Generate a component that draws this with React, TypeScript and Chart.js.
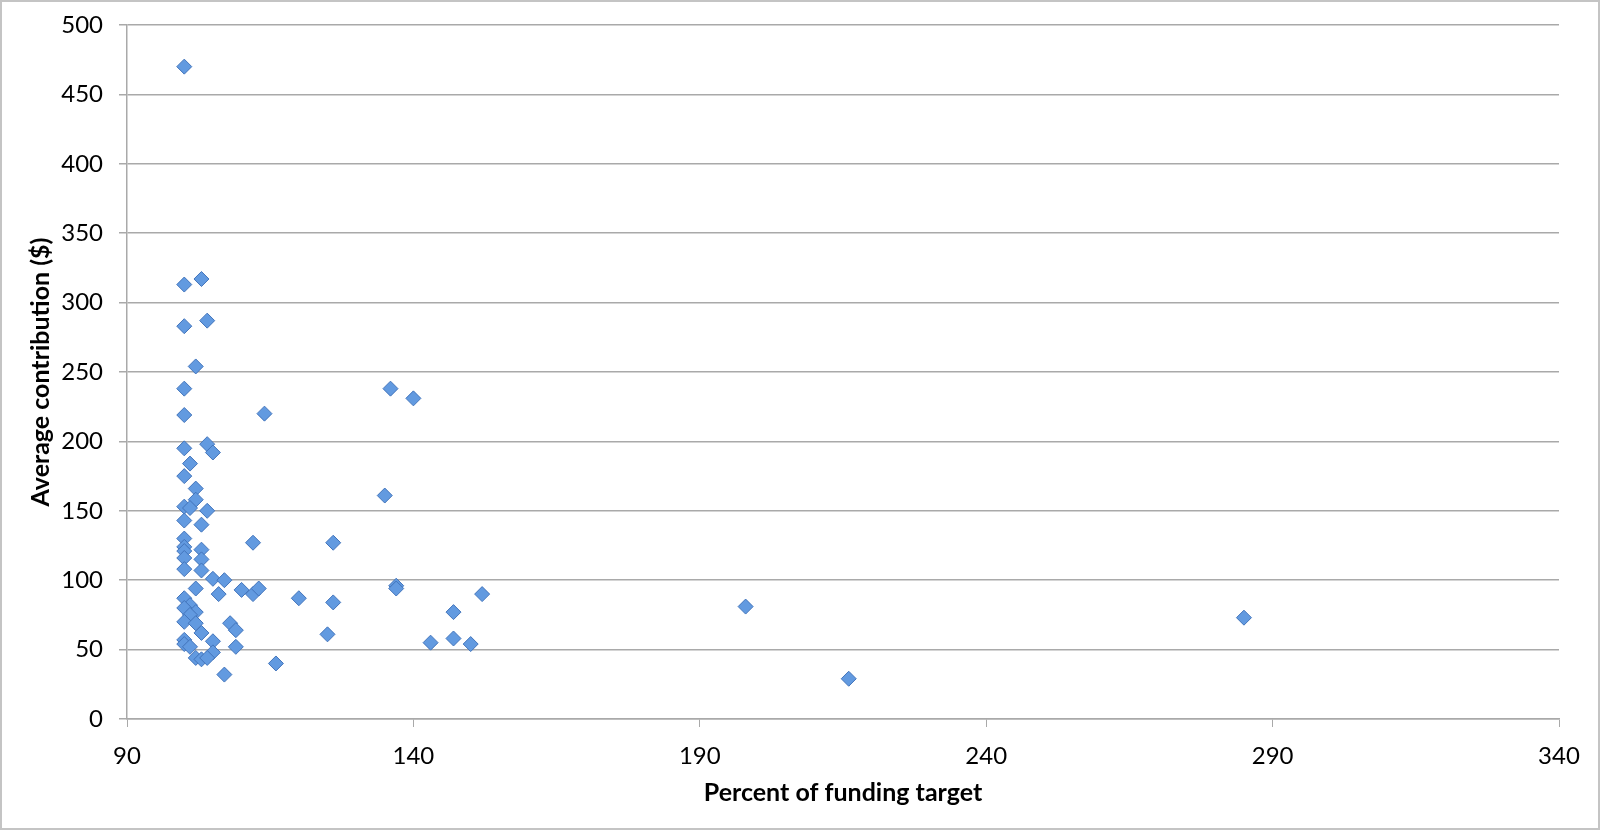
import React, { useEffect, useRef } from "react";
import { Chart, registerables } from "chart.js";

Chart.register(...registerables);

const percentOfTarget: number[] = [
  100, 100, 103, 100, 104, 102, 100, 100, 114, 136, 140,
  100, 104, 105, 101, 100, 102, 102, 135,
  100, 101, 104, 100, 103, 100, 100, 100, 103, 100, 103, 100, 103, 112,
  105, 107, 102, 106, 110, 112, 113,
  100, 101, 100, 102, 101, 100, 102, 103, 108, 109,
  105, 100, 100, 101, 109, 105, 102, 103, 104, 107,
  116, 120, 126, 126, 125, 137, 137, 147, 143, 147, 150, 152,
  198, 216, 285,
];

const avgContribution: number[] = [
  470, 313, 317, 283, 287, 254, 238, 219, 220, 238, 231,
  195, 198, 192, 184, 175, 166, 158, 161,
  153, 152, 150, 143, 140, 130, 124, 121, 122, 116, 115, 108, 107, 127,
  101, 100, 94, 90, 93, 90, 94,
  87, 82, 80, 77, 75, 70, 69, 62, 69, 64,
  56, 57, 54, 52, 52, 48, 44, 43, 44, 32,
  40, 87, 127, 84, 61, 96, 94, 77, 55, 58, 54, 90,
  81, 29, 73,
];

const xTitle = "Percent of funding target";
const yTitle = "Average contribution ($)";

export default function App() {
  const ref = useRef<HTMLCanvasElement | null>(null);

  useEffect(() => {
    document.body.style.margin = "0";
    if (!ref.current) return;
    const points = percentOfTarget.map((x, i) => ({ x, y: avgContribution[i] }));
    const gridColor = "#a9a9a9";
    const chart = new Chart(ref.current, {
      type: "scatter",
      data: {
        datasets: [
          {
            data: points,
            pointStyle: "rectRot",
            pointRadius: 7.5,
            pointHoverRadius: 7.5,
            backgroundColor: "#629ae0",
            borderColor: "#4274bb",
            borderWidth: 1,
          },
        ],
      },
      options: {
        animation: false,
        responsive: false,
        maintainAspectRatio: false,
        devicePixelRatio: 1,
        layout: { padding: { top: 25, right: 41, bottom: 0, left: 0 } },
        plugins: { legend: { display: false }, tooltip: { enabled: false } },
        scales: {
          x: {
            type: "linear",
            min: 90,
            max: 340,
            afterFit: (s: any) => {
              s.height = 830 - 719;
              s.paddingLeft = 0;
              s.paddingRight = 0;
            },
            ticks: {
              stepSize: 50,
              padding: 15,
              color: "#000",
              font: { family: "Lato", size: 24 },
            },
            grid: {
              drawOnChartArea: false,
              drawTicks: true,
              tickLength: 8,
              color: gridColor,
            },
            border: { display: true, color: gridColor, width: 1.5 },
            title: {
              display: true,
              text: xTitle,
              color: "#000",
              font: { family: "Lato", size: 25, weight: "bold" },
              padding: { top: 0, bottom: 22 },
            },
          },
          y: {
            type: "linear",
            min: 0,
            max: 500,
            afterFit: (s: any) => {
              s.width = 127;
              s.paddingTop = 0;
              s.paddingBottom = 0;
            },
            ticks: {
              stepSize: 50,
              padding: 16,
              color: "#000",
              font: { family: "Lato", size: 24 },
            },
            grid: {
              drawOnChartArea: true,
              drawTicks: true,
              tickLength: 8,
              color: gridColor,
              lineWidth: 1.5,
            },
            border: { display: true, color: gridColor, width: 1.5 },
            title: {
              display: true,
              text: yTitle,
              color: "#000",
              font: { family: "Lato", size: 25, weight: "bold" },
              padding: { top: 26, bottom: 0 },
            },
          },
        },
      },
    });
    return () => chart.destroy();
  }, []);

  return (
    <div
      style={{
        position: "absolute",
        left: 0,
        top: 0,
        width: 1600,
        height: 830,
        boxSizing: "border-box",
        border: "2px solid #c4c4c4",
        background: "#fff",
      }}
    >
      <canvas
        ref={ref}
        width={1600}
        height={830}
        style={{ position: "absolute", left: -2, top: -2, width: 1600, height: 830 }}
      />
    </div>
  );
}
